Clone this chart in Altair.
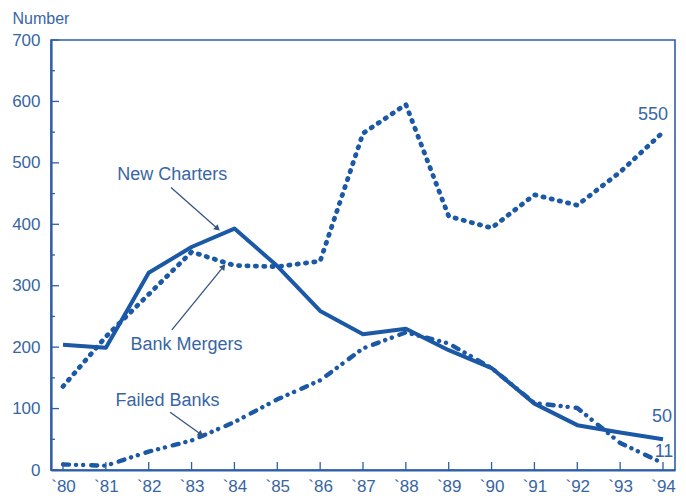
import math
import altair as alt
import pandas as pd

# ---------------- data ----------------
years = list(range(1980, 1995))
year_labels = ["`80", "`81", "`82", "`83", "`84", "`85", "`86", "`87",
               "`88", "`89", "`90", "`91", "`92", "`93", "`94"]
new_charters = [204, 199, 321, 363, 393, 332, 259, 221, 230, 195, 166, 108, 73, 61, 50]
bank_mergers = [136, 217, 286, 355, 333, 331, 340, 548, 595, 413, 394, 448, 431, 485, 550]
failed_banks = [9, 7, 30, 48, 78, 115, 146, 198, 224, 206, 166, 109, 101, 44, 11]

y_major = [0, 100, 200, 300, 400, 500, 600, 700]
y_minor = [50, 150, 250, 350, 450, 550, 650]

# series name labels and their arrows (data coordinates)
ann_text = ["New Charters", "Bank Mergers", "Failed Banks"]
ann_x = [1982.55, 1982.88, 1982.44]
ann_y = [480, 203.5, 113]
arr_x1 = [1982.52, 1982.54, 1982.50]
arr_y1 = [460, 228, 94]
arr_x2 = [1983.59, 1983.73, 1983.20]
arr_y2 = [394, 330, 59]

# end-value labels
end_series = ["Bank Mergers", "New Charters", "Failed Banks"]
end_text = ["550", "50", "11"]

# ---------------- styling ----------------
LINE = "#1b58a5"
TEXT = "#3866a3"
AXIS = "#2c5ea5"
ARROW = "#34557f"
FONT = "Liberation Sans"
W, H = 624, 430
X_DOMAIN = [1979.72, 1994.28]
Y_DOMAIN = [0, 700]

xs = alt.Scale(domain=X_DOMAIN, nice=False, zero=False)
ys = alt.Scale(domain=Y_DOMAIN, nice=False, zero=False)

series = {"New Charters": new_charters, "Bank Mergers": bank_mergers, "Failed Banks": failed_banks}
df = pd.DataFrame([
    {"series": s, "year": y, "value": v}
    for s, vals in series.items() for y, v in zip(years, vals)
])

label_expr = "[" + ",".join(f"'{l}'" for l in year_labels) + "][datum.value - 1980]"

x_axis = alt.Axis(values=years, labelExpr=label_expr, ticks=False, grid=False,
                  domain=True, domainColor=AXIS, domainWidth=2.2,
                  labelFont=FONT, labelFontSize=17, labelColor=TEXT,
                  labelPadding=8, title=None)
y_axis = alt.Axis(values=y_major, ticks=False, grid=False,
                  domain=True, domainColor=AXIS, domainWidth=2.2,
                  labelFont=FONT, labelFontSize=17, labelColor=TEXT,
                  labelPadding=11, title="Number", titleAngle=0,
                  titleAlign="left", titleBaseline="middle",
                  titleX=-39, titleY=-22, titleFont=FONT, titleFontSize=16,
                  titleFontWeight="normal", titleColor=TEXT)


def X(field):
    return alt.X(field, scale=xs, axis=x_axis)


def Y(field):
    return alt.Y(field, scale=ys, axis=y_axis)


styles = {
    "New Charters": dict(strokeWidth=4.0),
    "Bank Mergers": dict(strokeWidth=4.8, strokeDash=[1.2, 7.2], strokeCap="round"),
    "Failed Banks": dict(strokeWidth=4.4, strokeDash=[6, 7, 0.1, 7, 0.1, 8], strokeCap="round"),
}

layers = []
for s in series:
    base = alt.Chart(df).transform_filter(alt.datum.series == s)
    layers.append(base.mark_line(color=LINE, strokeJoin="round", **styles[s]).encode(
        x=X("year:Q"), y=Y("value:Q")))

# inward ticks
tick_major = alt.Chart(pd.DataFrame({"v": y_major})).mark_rule(color=AXIS, strokeWidth=1.3).encode(
    y=Y("v:Q"), x=alt.value(0), x2=alt.value(8))
tick_minor = alt.Chart(pd.DataFrame({"v": y_minor})).mark_rule(color=AXIS, strokeWidth=1.3).encode(
    y=Y("v:Q"), x=alt.value(0), x2=alt.value(4))
tick_x = alt.Chart(pd.DataFrame({"yr": years})).mark_rule(color=AXIS, strokeWidth=1.3).encode(
    x=X("yr:Q"), y=alt.value(H), y2=alt.value(H - 8))
layers += [tick_major, tick_minor, tick_x]

# annotations
ann = pd.DataFrame({"text": ann_text, "x": ann_x, "y": ann_y})
layers.append(alt.Chart(ann).mark_text(font=FONT, fontSize=18, color=TEXT,
                                       align="center", baseline="middle").encode(
    x=X("x:Q"), y=Y("y:Q"), text="text:N"))

# arrows
px_per_x = W / (X_DOMAIN[1] - X_DOMAIN[0])
px_per_y = H / (Y_DOMAIN[1] - Y_DOMAIN[0])
angles = []
for a, b, c, d in zip(arr_x1, arr_y1, arr_x2, arr_y2):
    dx = (c - a) * px_per_x
    dy = -(d - b) * px_per_y
    angles.append(math.degrees(math.atan2(dx, -dy)) % 360)
arr = pd.DataFrame({"x1": arr_x1, "y1": arr_y1, "x2": arr_x2, "y2": arr_y2, "ang": angles})
layers.append(alt.Chart(arr).mark_rule(color=ARROW, strokeWidth=1.3).encode(
    x=X("x1:Q"), y=Y("y1:Q"), x2="x2:Q", y2="y2:Q"))
layers.append(alt.Chart(arr).mark_point(shape="triangle", filled=True, color=ARROW,
                                        size=45, opacity=1).encode(
    x=X("x2:Q"), y=Y("y2:Q"),
    angle=alt.Angle("ang:Q", scale=None)))

# end-value labels
offsets = {"Bank Mergers": (-10, -17), "New Charters": (-1, -22), "Failed Banks": (1, -11)}
for s, t in zip(end_series, end_text):
    dxo, dyo = offsets[s]
    lab = pd.DataFrame({"year": [years[-1]], "value": [series[s][-1]], "t": [t]})
    layers.append(alt.Chart(lab).mark_text(font=FONT, fontSize=18, color=TEXT,
                                           align="center", baseline="middle",
                                           dx=dxo, dy=dyo).encode(
        x=X("year:Q"), y=Y("value:Q"), text="t:N"))

chart = alt.layer(*layers).properties(
    width=W, height=H,
    autosize=alt.AutoSizeParams(type="none"),
    padding={"left": 43, "top": 32, "right": 3, "bottom": 24},
    background="white",
).configure_view(stroke=AXIS, strokeWidth=1.6)

chart.save("out.html", embed_options={"renderer": "svg", "actions": False})
